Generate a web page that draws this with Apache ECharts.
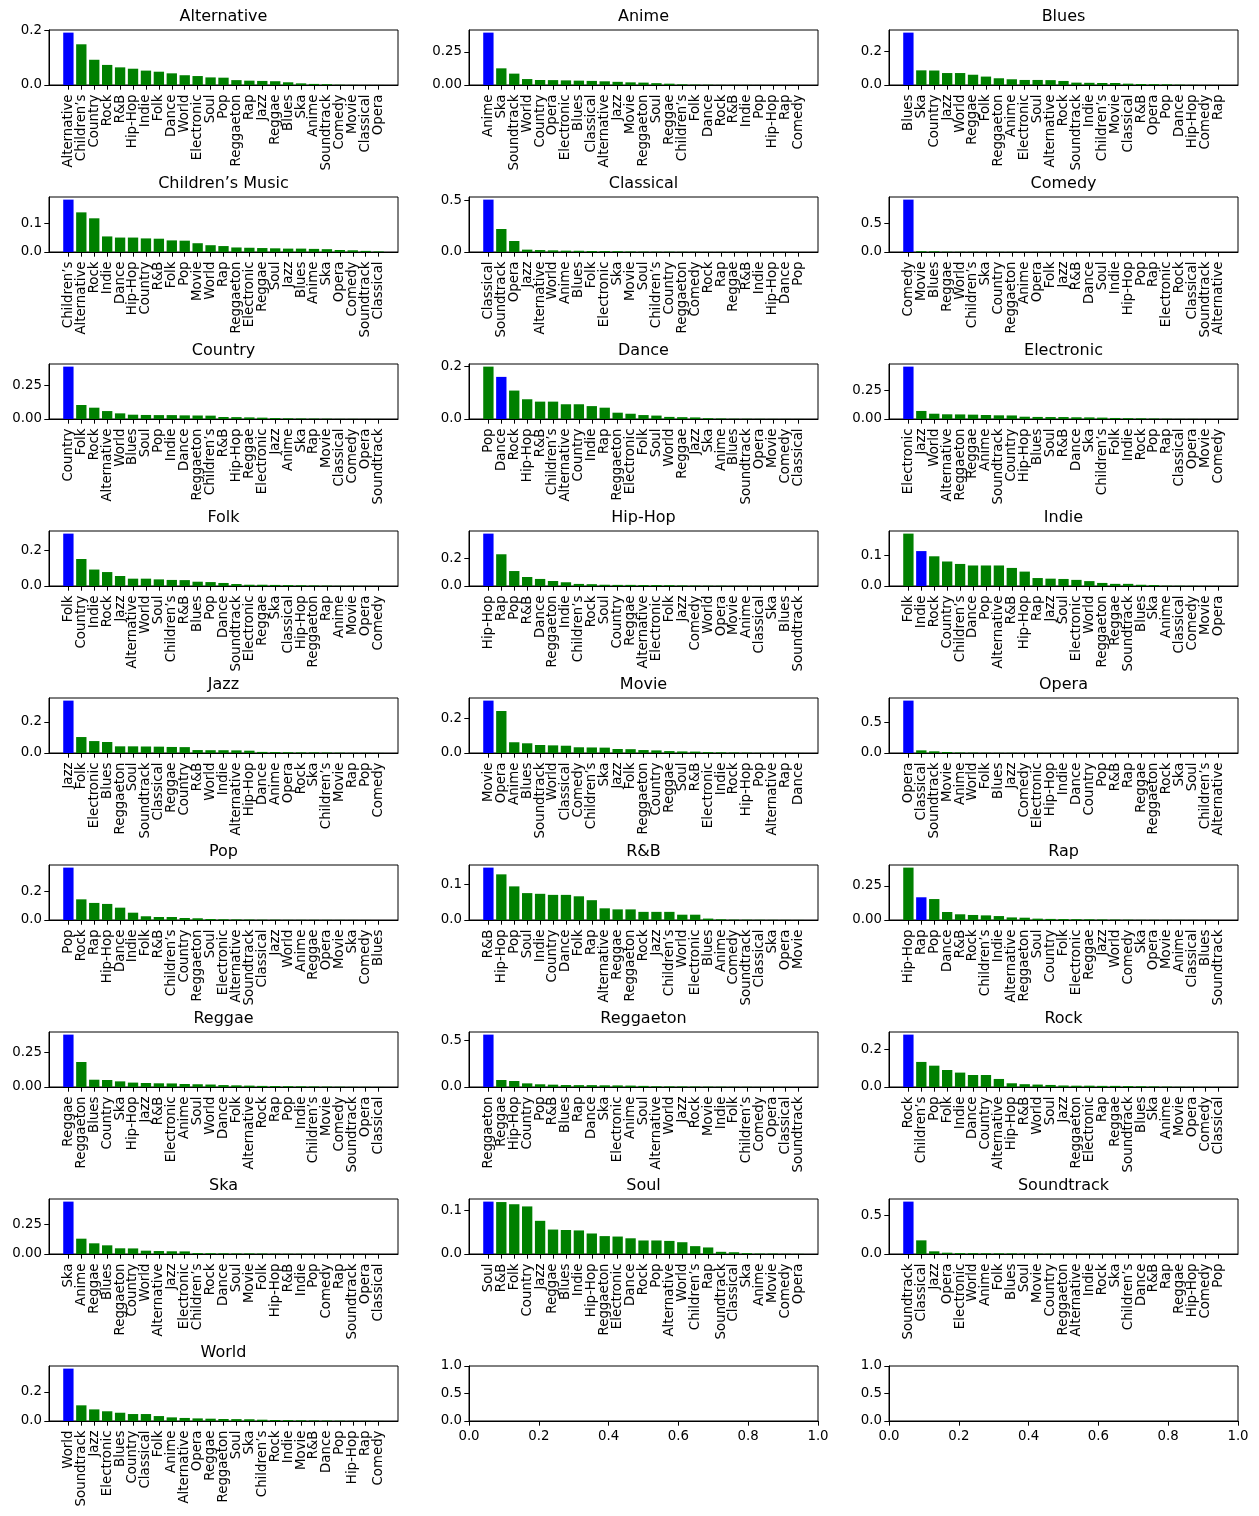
<!DOCTYPE html>
<html><head><meta charset="utf-8">
<script src="https://cdn.jsdelivr.net/npm/echarts@6/dist/echarts.min.js"></script>
<style>html,body{margin:0;padding:0;background:#fff}#c{width:1259px;height:1516px}</style>
</head><body><div id="c"></div>
<script>
// ---- data ----
const titles = ['Alternative','Anime','Blues','Children’s Music','Classical','Comedy','Country','Dance','Electronic','Folk','Hip-Hop','Indie','Jazz','Movie','Opera','Pop','R&B','Rap','Reggae','Reggaeton','Rock','Ska','Soul','Soundtrack','World'];

const altNames = ['Alternative','Children’s','Country','Rock','R&B','Hip-Hop','Indie','Folk','Dance','World','Electronic','Soul','Pop','Reggaeton','Rap','Jazz','Reggae','Blues','Ska','Anime','Soundtrack','Comedy','Movie','Classical','Opera'];
const altVals = [0.193,0.150,0.093,0.074,0.065,0.060,0.053,0.049,0.043,0.036,0.033,0.028,0.027,0.018,0.016,0.015,0.014,0.010,0.006,0.004,0.003,0.001,0.0005,0.0003,0.0002];

const animeNames = ['Anime','Ska','Soundtrack','World','Country','Opera','Electronic','Blues','Classical','Alternative','Jazz','Movie','Reggaeton','Soul','Reggae','Children’s','Folk','Dance','Rock','R&B','Indie','Pop','Hip-Hop','Rap','Comedy'];
const animeVals = [0.396,0.126,0.086,0.045,0.038,0.037,0.035,0.033,0.031,0.028,0.024,0.020,0.018,0.014,0.010,0.005,0.003,0.002,0.001,0.001,0.0008,0.0005,0.0003,0.0002,0.0001];

const bluesNames = ['Blues','Ska','Country','Jazz','World','Reggae','Folk','Reggaeton','Anime','Electronic','Soul','Alternative','Rock','Soundtrack','Indie','Children’s','Movie','Classical','R&B','Opera','Pop','Dance','Hip-Hop','Comedy','Rap'];
const bluesVals = [0.311,0.087,0.086,0.071,0.071,0.061,0.050,0.040,0.034,0.030,0.030,0.029,0.024,0.014,0.013,0.012,0.012,0.008,0.006,0.005,0.004,0.002,0.001,0.0005,0.0003];

const childNames = ['Children’s','Alternative','Rock','Indie','Dance','Hip-Hop','Country','R&B','Folk','Pop','Movie','World','Rap','Reggaeton','Electronic','Reggae','Soul','Jazz','Blues','Anime','Ska','Opera','Comedy','Soundtrack','Classical'];
const childVals = [0.185,0.140,0.119,0.055,0.051,0.051,0.048,0.047,0.041,0.040,0.031,0.024,0.021,0.016,0.015,0.014,0.013,0.012,0.012,0.011,0.010,0.007,0.006,0.004,0.002];

const classNames = ['Classical','Soundtrack','Opera','Jazz','Alternative','World','Anime','Blues','Folk','Electronic','Ska','Movie','Soul','Children’s','Country','Reggaeton','Comedy','Rock','Rap','Reggae','R&B','Indie','Hip-Hop','Dance','Pop'];
const classVals = [0.510,0.224,0.107,0.023,0.019,0.016,0.013,0.012,0.010,0.009,0.008,0.005,0.004,0.003,0.003,0.002,0.002,0.001,0.001,0.001,0.0008,0.0006,0.0005,0.0004,0.0003];

const comedyNames = ['Comedy','Movie','Blues','Reggae','World','Children’s','Ska','Country','Reggaeton','Anime','Opera','Folk','Jazz','R&B','Dance','Soul','Indie','Hip-Hop','Pop','Rap','Electronic','Rock','Classical','Soundtrack','Alternative'];
const comedyVals = [0.920,0.014,0.012,0.005,0.004,0.004,0.003,0.003,0.003,0.002,0.002,0.002,0.002,0.001,0.001,0.001,0.001,0.001,0.0008,0.0007,0.0006,0.0005,0.0004,0.0003,0.0002];

const countryNames = ['Country','Folk','Rock','Alternative','World','Blues','Soul','Pop','Indie','Dance','Reggaeton','Children’s','R&B','Hip-Hop','Reggae','Electronic','Jazz','Anime','Ska','Rap','Movie','Classical','Comedy','Opera','Soundtrack'];
const countryVals = [0.389,0.104,0.084,0.059,0.042,0.032,0.030,0.029,0.029,0.027,0.026,0.025,0.015,0.014,0.012,0.010,0.007,0.005,0.004,0.003,0.002,0.001,0.001,0.0005,0.0003];

const danceNames = ['Pop','Dance','Rock','Hip-Hop','R&B','Children’s','Alternative','Country','Indie','Rap','Reggaeton','Electronic','Folk','Soul','World','Reggae','Jazz','Ska','Anime','Blues','Soundtrack','Opera','Movie','Comedy','Classical'];
const danceVals = [0.199,0.160,0.108,0.075,0.066,0.066,0.056,0.056,0.049,0.043,0.024,0.020,0.015,0.013,0.008,0.007,0.006,0.003,0.002,0.001,0.0008,0.0006,0.0004,0.0003,0.0002];

const elecNames = ['Electronic','Jazz','World','Alternative','Reggaeton','Reggae','Anime','Soundtrack','Country','Hip-Hop','Blues','Soul','R&B','Dance','Ska','Children’s','Folk','Indie','Rock','Pop','Rap','Classical','Opera','Movie','Comedy'];
const elecVals = [0.456,0.070,0.046,0.041,0.040,0.038,0.035,0.032,0.031,0.020,0.018,0.017,0.017,0.015,0.014,0.012,0.009,0.007,0.006,0.004,0.002,0.001,0.001,0.0005,0.0003];

const folkNames = ['Folk','Country','Indie','Rock','Jazz','Alternative','World','Soul','Children’s','R&B','Blues','Pop','Dance','Soundtrack','Electronic','Reggae','Ska','Classical','Hip-Hop','Reggaeton','Rap','Anime','Movie','Opera','Comedy'];
const folkVals = [0.293,0.151,0.092,0.078,0.056,0.041,0.041,0.037,0.034,0.033,0.024,0.022,0.017,0.011,0.007,0.007,0.006,0.005,0.004,0.003,0.002,0.001,0.001,0.0005,0.0003];

const hiphopNames = ['Hip-Hop','Rap','Pop','R&B','Dance','Reggaeton','Indie','Children’s','Rock','Soul','Country','Reggae','Alternative','Electronic','Folk','Jazz','Comedy','World','Opera','Movie','Anime','Classical','Ska','Blues','Soundtrack'];
const hiphopVals = [0.378,0.229,0.108,0.065,0.051,0.036,0.027,0.015,0.013,0.009,0.008,0.008,0.007,0.007,0.006,0.004,0.003,0.002,0.002,0.001,0.001,0.0008,0.0006,0.0004,0.0002];

const indieNames = ['Folk','Indie','Rock','Country','Children’s','Dance','Pop','Alternative','R&B','Hip-Hop','Rap','Jazz','Soul','Electronic','World','Reggaeton','Reggae','Soundtrack','Blues','Ska','Anime','Classical','Comedy','Movie','Opera'];
const indieVals = [0.171,0.114,0.097,0.080,0.072,0.067,0.067,0.067,0.059,0.047,0.026,0.024,0.023,0.020,0.016,0.010,0.007,0.007,0.004,0.003,0.001,0.0008,0.0005,0.0003,0.0002];

const jazzNames = ['Jazz','Folk','Electronic','Blues','Reggaeton','Soul','Soundtrack','Classical','Reggae','Country','R&B','World','Indie','Alternative','Hip-Hop','Dance','Anime','Opera','Rock','Ska','Children’s','Movie','Rap','Pop','Comedy'];
const jazzVals = [0.338,0.103,0.077,0.071,0.043,0.043,0.042,0.041,0.039,0.038,0.019,0.018,0.018,0.017,0.015,0.007,0.006,0.005,0.004,0.004,0.003,0.002,0.001,0.001,0.0005];

const movieNames = ['Movie','Opera','Anime','Blues','Soundtrack','World','Classical','Comedy','Children’s','Ska','Jazz','Folk','Reggaeton','Country','Reggae','Soul','R&B','Electronic','Indie','Rock','Hip-Hop','Pop','Alternative','Rap','Dance'];
const movieVals = [0.302,0.242,0.062,0.056,0.046,0.044,0.042,0.033,0.032,0.031,0.023,0.022,0.017,0.015,0.011,0.009,0.008,0.005,0.004,0.003,0.002,0.001,0.001,0.0005,0.0003];

const operaNames = ['Opera','Classical','Soundtrack','Movie','Anime','World','Folk','Blues','Jazz','Comedy','Electronic','Hip-Hop','Indie','Dance','Country','Pop','R&B','Rap','Reggae','Reggaeton','Rock','Ska','Soul','Children’s','Alternative'];
const operaVals = [0.853,0.043,0.027,0.016,0.008,0.006,0.004,0.003,0.003,0.002,0.002,0.001,0.001,0.001,0.001,0.0008,0.0008,0.0006,0.0005,0.0005,0.0004,0.0003,0.0003,0.0002,0.0001];

const popNames = ['Pop','Rock','Rap','Hip-Hop','Dance','Indie','Folk','R&B','Children’s','Country','Reggaeton','Soul','Electronic','Alternative','Soundtrack','Classical','Jazz','World','Anime','Reggae','Opera','Movie','Ska','Comedy','Blues'];
const popVals = [0.365,0.144,0.119,0.112,0.086,0.051,0.026,0.021,0.021,0.014,0.012,0.007,0.005,0.004,0.003,0.002,0.002,0.001,0.001,0.001,0.0008,0.0006,0.0004,0.0003,0.0002];

const rnbNames = ['R&B','Hip-Hop','Pop','Soul','Indie','Country','Dance','Folk','Rap','Alternative','Reggae','Reggaeton','Rock','Jazz','Children’s','World','Electronic','Blues','Anime','Comedy','Soundtrack','Classical','Ska','Opera','Movie'];
const rnbVals = [0.148,0.129,0.095,0.076,0.074,0.071,0.071,0.067,0.056,0.033,0.030,0.030,0.023,0.023,0.023,0.015,0.015,0.004,0.002,0.001,0.0008,0.0006,0.0004,0.0003,0.0002];

const rapNames = ['Hip-Hop','Rap','Pop','Dance','R&B','Rock','Children’s','Indie','Alternative','Reggaeton','Soul','Country','Folk','Electronic','Reggae','Jazz','World','Comedy','Ska','Opera','Movie','Anime','Classical','Blues','Soundtrack'];
const rapVals = [0.385,0.167,0.154,0.059,0.042,0.037,0.034,0.029,0.019,0.017,0.010,0.008,0.007,0.006,0.005,0.004,0.003,0.002,0.001,0.001,0.0008,0.0006,0.0004,0.0003,0.0002];

const reggaeNames = ['Reggae','Reggaeton','Blues','Country','Ska','Hip-Hop','Jazz','R&B','Electronic','Anime','Soul','World','Dance','Folk','Alternative','Rock','Rap','Pop','Indie','Children’s','Movie','Comedy','Soundtrack','Opera','Classical'];
const reggaeVals = [0.381,0.182,0.053,0.051,0.041,0.032,0.029,0.027,0.026,0.022,0.020,0.018,0.014,0.012,0.010,0.008,0.007,0.006,0.005,0.004,0.003,0.002,0.001,0.001,0.0005];

const reggaetonNames = ['Reggaeton','Reggae','Hip-Hop','Country','Pop','R&B','Blues','Rap','Dance','Ska','Electronic','Anime','Soul','Alternative','World','Jazz','Rock','Movie','Indie','Folk','Children’s','Comedy','Opera','Classical','Soundtrack'];
const reggaetonVals = [0.560,0.075,0.064,0.039,0.029,0.025,0.021,0.020,0.020,0.018,0.017,0.015,0.012,0.008,0.007,0.006,0.005,0.004,0.003,0.002,0.002,0.001,0.0008,0.0005,0.0003];

const rockNames = ['Rock','Children’s','Pop','Folk','Indie','Dance','Country','Alternative','Hip-Hop','R&B','World','Soul','Jazz','Reggaeton','Electronic','Rap','Reggae','Soundtrack','Blues','Ska','Anime','Movie','Opera','Comedy','Classical'];
const rockVals = [0.280,0.134,0.114,0.091,0.077,0.064,0.064,0.043,0.020,0.015,0.013,0.011,0.008,0.007,0.007,0.006,0.006,0.005,0.004,0.003,0.002,0.001,0.0008,0.0005,0.0003];

const skaNames = ['Ska','Anime','Reggae','Blues','Reggaeton','Country','World','Alternative','Jazz','Electronic','Children’s','Rock','Dance','Soul','Movie','Folk','Hip-Hop','R&B','Indie','Pop','Comedy','Rap','Soundtrack','Opera','Classical'];
const skaVals = [0.441,0.129,0.090,0.073,0.048,0.047,0.028,0.025,0.023,0.022,0.008,0.007,0.006,0.005,0.005,0.004,0.003,0.002,0.002,0.001,0.0008,0.0006,0.0004,0.0003,0.0002];

const soulNames = ['Soul','R&B','Folk','Country','Jazz','Reggae','Blues','Indie','Hip-Hop','Reggaeton','Electronic','Dance','Rock','Pop','Alternative','World','Children’s','Rap','Soundtrack','Classical','Ska','Anime','Movie','Comedy','Opera'];
const soulVals = [0.120,0.119,0.114,0.109,0.076,0.056,0.055,0.054,0.047,0.041,0.040,0.036,0.031,0.031,0.030,0.027,0.018,0.015,0.005,0.004,0.002,0.001,0.001,0.0005,0.0003];

const soundNames = ['Soundtrack','Classical','Jazz','Opera','Electronic','World','Anime','Folk','Blues','Soul','Movie','Country','Reggaeton','Alternative','Indie','Rock','Ska','Children’s','Dance','R&B','Rap','Reggae','Hip-Hop','Comedy','Pop'];
const soundVals = [0.683,0.178,0.035,0.017,0.012,0.011,0.010,0.009,0.008,0.006,0.005,0.004,0.003,0.003,0.002,0.002,0.001,0.001,0.001,0.0008,0.0006,0.0005,0.0004,0.0003,0.0002];

const worldNames = ['World','Soundtrack','Jazz','Electronic','Blues','Country','Classical','Folk','Anime','Alternative','Opera','Reggae','Reggaeton','Soul','Ska','Children’s','Rock','Indie','Movie','R&B','Dance','Pop','Hip-Hop','Rap','Comedy'];
const worldVals = [0.361,0.108,0.080,0.067,0.057,0.048,0.048,0.034,0.025,0.021,0.018,0.016,0.014,0.013,0.012,0.009,0.007,0.006,0.005,0.004,0.003,0.002,0.001,0.001,0.0005];

// y tick labels of each panel
const yTicks = [
  [0,0.2],[0,0.25],[0,0.2],
  [0,0.1],[0,0.5],[0,0.5],
  [0,0.25],[0,0.2],[0,0.25],
  [0,0.2],[0,0.2],[0,0.1],
  [0,0.2],[0,0.2],[0,0.5],
  [0,0.2],[0,0.1],[0,0.25],
  [0,0.25],[0,0.5],[0,0.2],
  [0,0.25],[0,0.1],[0,0.5],
  [0,0.2]
];
const emptyXTicks = [0,0.2,0.4,0.6,0.8,1.0];
const emptyYTicks = [0,0.5,1.0];

const panelNames = [altNames,animeNames,bluesNames,childNames,classNames,comedyNames,countryNames,danceNames,elecNames,folkNames,hiphopNames,indieNames,jazzNames,movieNames,operaNames,popNames,rnbNames,rapNames,reggaeNames,reggaetonNames,rockNames,skaNames,soulNames,soundNames,worldNames];
const panelVals = [altVals,animeVals,bluesVals,childVals,classVals,comedyVals,countryVals,danceVals,elecVals,folkVals,hiphopVals,indieVals,jazzVals,movieVals,operaVals,popVals,rnbVals,rapVals,reggaeVals,reggaetonVals,rockVals,skaVals,soulVals,soundVals,worldVals];

// ---- layout / style ----
const FONT = 'DejaVu Sans';
const colLeft = [49, 469, 889], W = 349, H = 55, TOP0 = 30, STEP = 167;
const axisLineStyle = {color:'#000', width:1};
const labelStyle = {fontFamily:FONT, fontSize:13.33, color:'#000'};
const decimals = (ticks) => {
  const step = ticks[1]-ticks[0];
  const s = String(step); const d = s.indexOf('.')>=0 ? s.length - s.indexOf('.') - 1 : 0;
  return Math.max(1, d);
};

const chart = echarts.init(document.getElementById('c'), null, {renderer:'canvas', width:1259, height:1516});
const option = {animation:false, backgroundColor:'#fff', title:[], grid:[], xAxis:[], yAxis:[], series:[]};

for (let k = 0; k < 27; k++) {
  const r = Math.floor(k/3), c = k%3;
  const left = colLeft[c], top = TOP0 + r*STEP;
  option.grid.push({left:left, top:top, width:W, height:H, show:true, borderColor:'#000', borderWidth:1, backgroundColor:'#fff'});
  if (k < 25) {
    const names = panelNames[k], vals = panelVals[k], ticks = yTicks[k];
    const hl = titles[k].split(' ')[0];
    const cats = [''].concat(names, ['']);
    const dec = decimals(ticks);
    const maxV = Math.max.apply(null, vals);
    option.title.push({text:titles[k], left:left + W/2, top:top - 21, textAlign:'center', padding:0,
      textStyle:{fontFamily:FONT, fontSize:16, fontWeight:'normal', color:'#000'}});
    option.xAxis.push({type:'category', gridIndex:k, data:cats, boundaryGap:true,
      axisLine:{show:true, lineStyle:axisLineStyle},
      axisTick:{show:true, alignWithLabel:true, length:4.7, lineStyle:axisLineStyle,
        interval:function(i){ return i > 0 && i < cats.length - 1; }},
      axisLabel:Object.assign({interval:0, rotate:90, margin:9.5}, labelStyle),
      splitLine:{show:false}});
    option.yAxis.push({type:'value', gridIndex:k, min:0, max:maxV*1.05,
      axisLine:{show:true, lineStyle:axisLineStyle},
      axisTick:{show:true, length:4.7, lineStyle:axisLineStyle, customValues:ticks},
      axisLabel:Object.assign({margin:7, customValues:ticks, formatter:(v)=>Number(v).toFixed(dec)}, labelStyle),
      splitLine:{show:false}});
    const data = ['-'].concat(vals.map((v,i)=>({value:v, itemStyle:{color: names[i]===hl ? '#0000ff' : '#008000'}})), ['-']);
    option.series.push({type:'bar', xAxisIndex:k, yAxisIndex:k, data:data, barWidth:'80%', silent:true});
  } else {
    option.xAxis.push({type:'value', gridIndex:k, min:0, max:1,
      axisLine:{show:true, lineStyle:axisLineStyle},
      axisTick:{show:true, length:4.7, lineStyle:axisLineStyle, customValues:emptyXTicks},
      axisLabel:Object.assign({margin:9.5, customValues:emptyXTicks, formatter:(v)=>Number(v).toFixed(1)}, labelStyle),
      splitLine:{show:false}});
    option.yAxis.push({type:'value', gridIndex:k, min:0, max:1,
      axisLine:{show:true, lineStyle:axisLineStyle},
      axisTick:{show:true, length:4.7, lineStyle:axisLineStyle, customValues:emptyYTicks},
      axisLabel:Object.assign({margin:7, customValues:emptyYTicks, formatter:(v)=>Number(v).toFixed(1)}, labelStyle),
      splitLine:{show:false}});
    option.series.push({type:'scatter', xAxisIndex:k, yAxisIndex:k, data:[]});
  }
}
chart.setOption(option);
</script></body></html>
